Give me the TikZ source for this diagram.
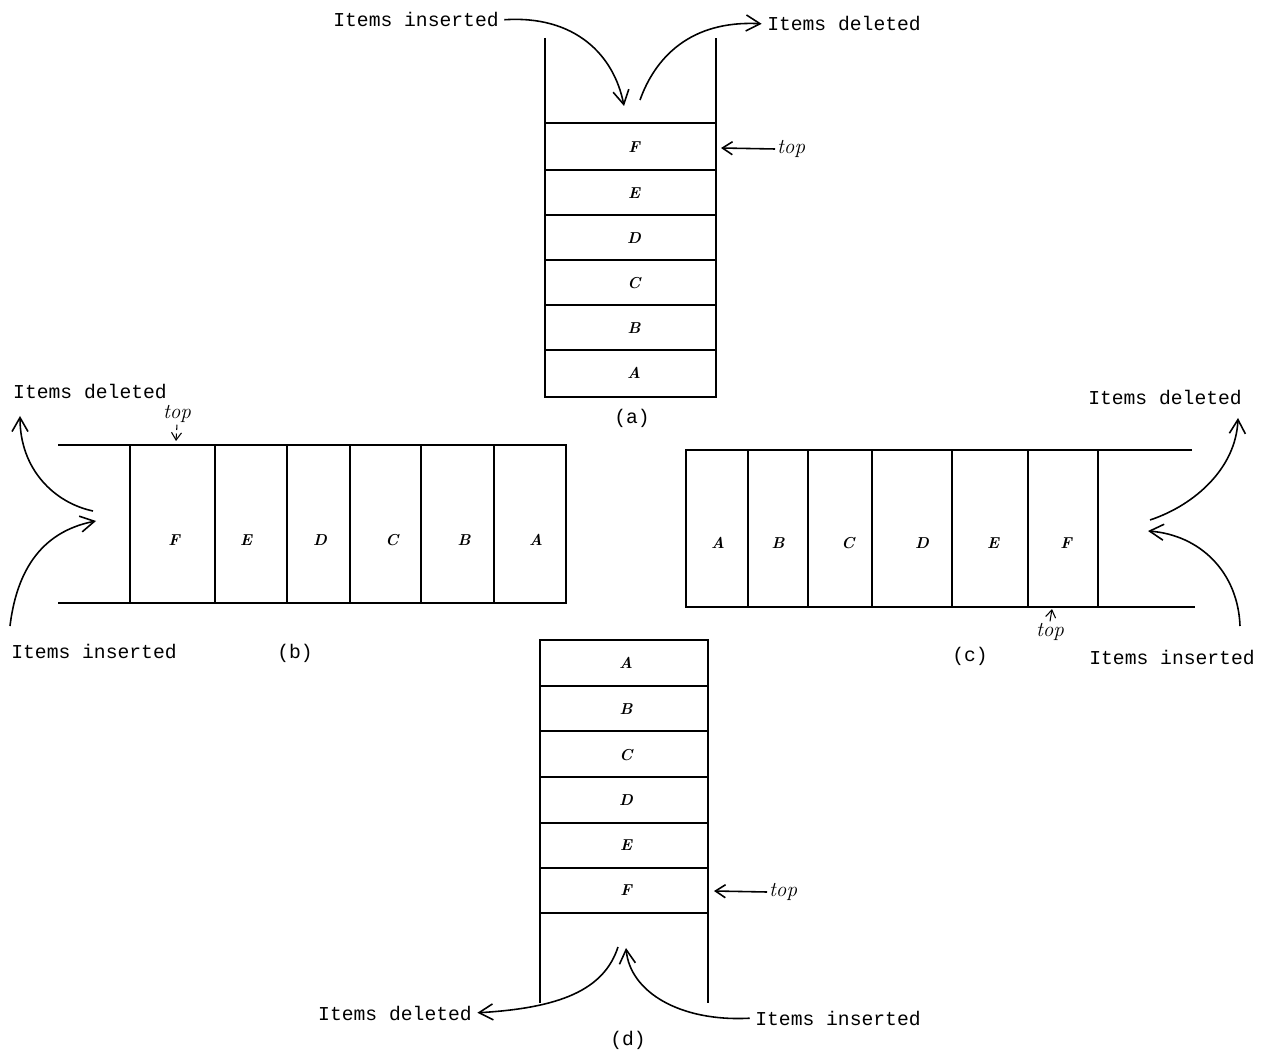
\documentclass[tikz,border=0pt]{standalone}
\usepackage{fontspec}
\setmonofont{Liberation Mono}
\usetikzlibrary{arrows.meta}
\tikzset{
  wall/.style={line width=1pt},
  cell/.style={font=\small\bfseries\itshape},
  lbl/.style={font=\ttfamily\fontsize{11.2}{13}\selectfont, inner sep=1pt},
  ptr/.style={font=\itshape\fontsize{12}{14}\selectfont, inner sep=1pt},
  flow/.style={-{Straight Barb[length=2.8mm,width=3.2mm]}, line width=0.9pt},
  tick/.style={-{Straight Barb[length=1.5mm,width=2mm]}, line width=0.6pt},
}

\begin{document}
\begin{tikzpicture}[x=0.02cm,y=-0.02cm]
\useasboundingbox (0,0) rectangle (1264,1050);

% (a) vertical stack, open at the top
\draw[wall] (545,38) -- (545,397) -- (716,397) -- (716,38);
\foreach \y in {123,170,215,260,305,350}
  \draw[wall] (545,\y) -- (716,\y);
\foreach \t/\y in {F/147,E/193,D/238,C/283,B/328,A/373}
  \node[cell] (a\t) at (634,\y) {\t};
\node[lbl] (ains) at (416,20) {Items inserted};
\node[lbl] (adel) at (844,24) {Items deleted};
\coordinate (ain) at (624,106);
\coordinate (aout) at (640,100);
\draw[flow, shorten <=2pt] (ains.east) .. controls (575,15) and (614,55) .. (ain);
\draw[flow, shorten >=2pt] (aout) .. controls (655,58) and (690,20) .. (adel.west);
\node[ptr, anchor=west] (atop) at (775,149) {top};
\coordinate (aedge) at (721,148);
\draw[flow, -{Straight Barb[length=2mm,width=2.6mm]}] (atop.west) -- (aedge);
\node[lbl] (acap) at (632,418) {(a)};

% (b) horizontal stack, open on the left
\draw[wall] (58,445) -- (566,445) -- (566,603) -- (58,603);
\foreach \x in {130,215,287,350,421,494}
  \draw[wall] (\x,445) -- (\x,603);
\foreach \t/\x in {F/174,E/246,D/320,C/392,B/464,A/536}
  \node[cell] (b\t) at (\x,540) {\t};
\node[lbl] (bdel) at (90,391) {Items deleted};
\node[lbl] (bins) at (94,651) {Items inserted};
\coordinate (bout) at (93,511);
\coordinate (bup) at (20,416);
\coordinate (bfoot) at (10,626);
\coordinate (bin) at (96,521);
\draw[flow] (bout) .. controls (55,503) and (20,470) .. (bup);
\draw[flow] (bfoot) .. controls (18,560) and (50,530) .. (bin);
\node[ptr] (btop) at (177,414) {top};
\coordinate (bedge) at (176,441);
\draw[tick, densely dashed] (btop.south) -- (bedge);
\node[lbl] (bcap) at (295,653) {(b)};

% (c) horizontal stack, open on the right
\draw[wall] (1192,450) -- (686,450) -- (686,607) -- (1195,607);
\foreach \x in {748,808,872,952,1028,1098}
  \draw[wall] (\x,450) -- (\x,607);
\foreach \t/\x in {A/718,B/778,C/848,D/922,E/993,F/1066}
  \node[cell] (c\t) at (\x,543) {\t};
\node[lbl] (cdel) at (1165,397) {Items deleted};
\node[lbl] (cins) at (1172,657) {Items inserted};
\coordinate (cout) at (1150,520);
\coordinate (cup) at (1238,418);
\coordinate (cfoot) at (1240,626);
\coordinate (cin) at (1148,531);
\draw[flow] (cout) .. controls (1195,505) and (1236,468) .. (cup);
\draw[flow] (cfoot) .. controls (1238,572) and (1200,535) .. (cin);
\node[ptr] (ctop) at (1050,632) {top};
\coordinate (cedge) at (1052,609);
\draw[tick] (ctop.north) -- (cedge);
\node[lbl] (ccap) at (970,656) {(c)};

% (d) vertical stack, open at the bottom
\draw[wall] (540,1003) -- (540,640) -- (708,640) -- (708,1003);
\foreach \y in {686,731,777,823,868,913}
  \draw[wall] (540,\y) -- (708,\y);
\foreach \t/\y in {A/663,B/709,C/755,D/800,E/845,F/890}
  \node[cell] (d\t) at (626,\y) {\t};
\node[lbl] (ddel) at (395,1013) {Items deleted};
\node[lbl] (dins) at (838,1018) {Items inserted};
\coordinate (dout) at (618,947);
\coordinate (din) at (626,948);
\draw[flow, shorten >=2pt] (dout) .. controls (604,990) and (560,1008) .. (ddel.east);
\draw[flow, shorten <=2pt] (dins.west) .. controls (680,1022) and (630,992) .. (din);
\node[ptr, anchor=west] (dtop) at (767,892) {top};
\coordinate (dedge) at (714,891);
\draw[flow, -{Straight Barb[length=2mm,width=2.6mm]}] (dtop.west) -- (dedge);
\node[lbl] (dcap) at (628,1040) {(d)};
\end{tikzpicture}
\end{document}
